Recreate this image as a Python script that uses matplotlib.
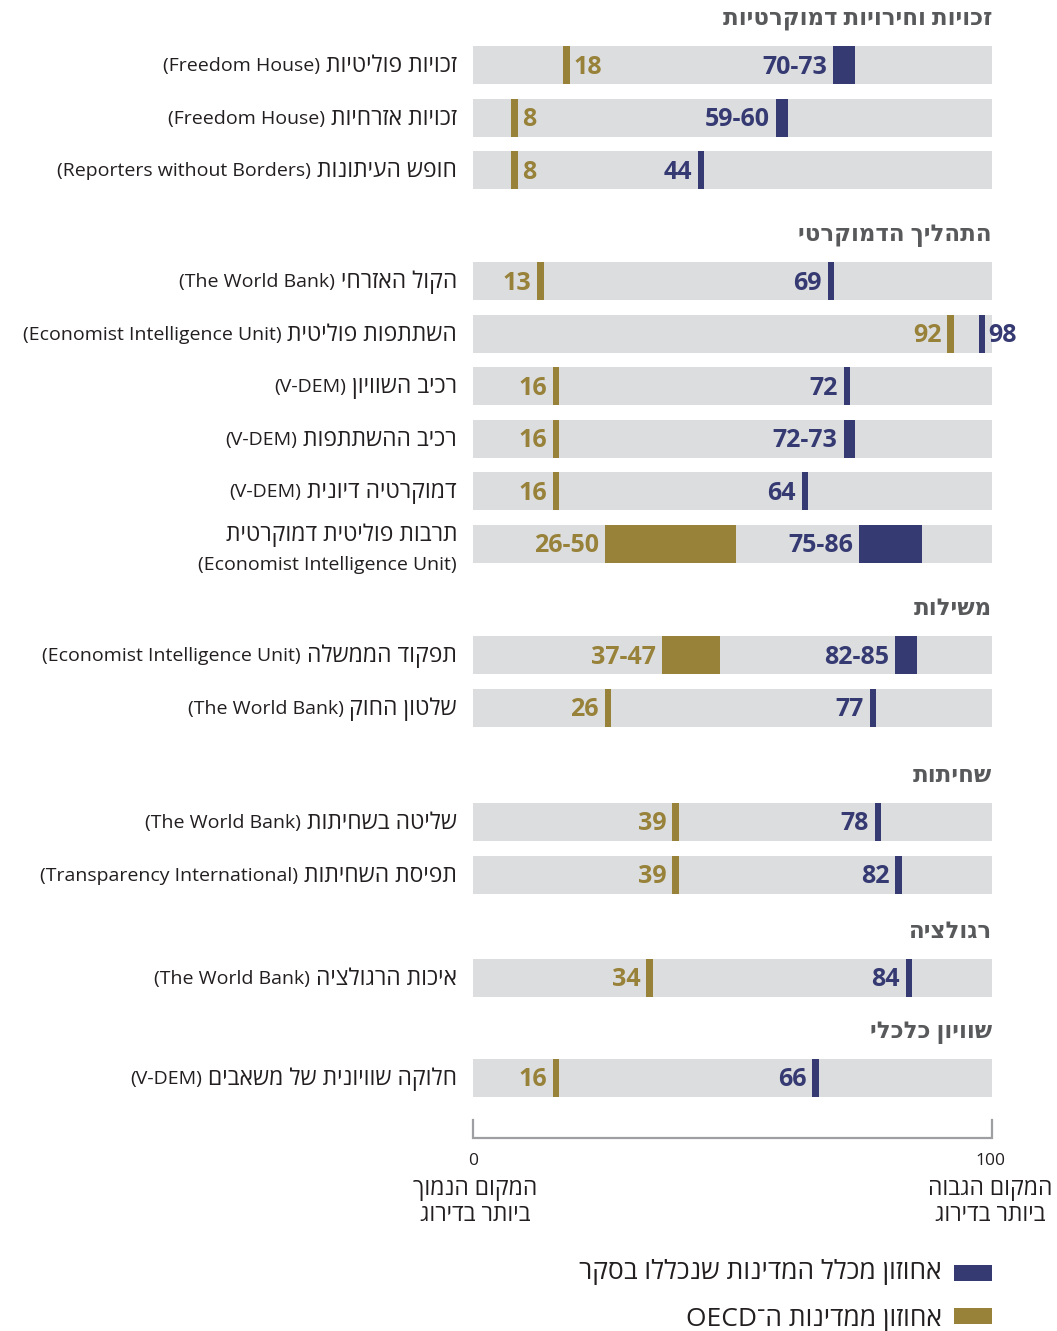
import matplotlib
matplotlib.use("Agg")
import matplotlib.pyplot as plt

plt.rcParams["font.family"] = ["Open Sans", "DejaVu Sans"]

GOLD = "#98823a"
NAVY = "#363a72"
GREY = "#dcdddf"
HEAD = "#58595b"
TXT = "#231f20"

# --- data ---
sections = ["זכויות וחירויות דמוקרטיות", "התהליך הדמוקרטי", "משילות",
            "שחיתות", "רגולציה", "שוויון כלכלי"]
section_sizes = [3, 6, 2, 2, 1, 1]

indicators = ["זכויות פוליטיות", "זכויות אזרחיות", "חופש העיתונות",
              "הקול האזרחי", "השתתפות פוליטית", "רכיב השוויון", "רכיב ההשתתפות",
              "דמוקרטיה דיונית", "תרבות פוליטית דמוקרטית",
              "תפקוד הממשלה", "שלטון החוק",
              "שליטה בשחיתות", "תפיסת השחיתות",
              "איכות הרגולציה",
              "חלוקה שוויונית של משאבים"]
sources = ["Freedom House", "Freedom House", "Reporters without Borders",
           "The World Bank", "Economist Intelligence Unit", "V-DEM", "V-DEM",
           "V-DEM", "Economist Intelligence Unit",
           "Economist Intelligence Unit", "The World Bank",
           "The World Bank", "Transparency International",
           "The World Bank",
           "V-DEM"]

oecd_lo = [18, 8, 8, 13, 92, 16, 16, 16, 26, 37, 26, 39, 39, 34, 16]
oecd_hi = [18, 8, 8, 13, 92, 16, 16, 16, 50, 47, 26, 39, 39, 34, 16]
all_lo = [70, 59, 44, 69, 98, 72, 72, 64, 75, 82, 77, 78, 82, 84, 66]
all_hi = [73, 60, 44, 69, 98, 72, 73, 64, 86, 85, 77, 78, 82, 84, 66]

legend_all = "אחוזון מכלל המדינות שנכללו בסקר"
legend_oecd = "אחוזון ממדינות ה־"
low_label = ["המקום הנמוך", "ביותר בדירוג"]
high_label = ["המקום הגבוה", "ביותר בדירוג"]

# --- layout (pixels, figure is 1057 x 1331 at dpi 100) ---
W, H = 1057, 1331
header_y = [19, 235, 609, 776, 932, 1032]
first_gap, row_step, bar_h = 46, 52.6, 38
pad = 0.6  # half width of a single-value marker, in percentile units
oecd_label_right = [True, True, True] + [False] * 12
all_label_right = [False] * 4 + [True] + [False] * 10
two_line = [8]
HEB_FS, ENG_FS = 16.5, 14


def rtl(s):
    # visual order for Hebrew-only text
    return s[::-1]


fig = plt.figure(figsize=(W / 100, H / 100), dpi=100)
ax = fig.add_axes([473 / W, 0, 519 / W, 1])
ax.set_xlim(0, 100)
ax.set_ylim(H, 0)
ax.axis("off")

row_y = []
for hy, n in zip(header_y, section_sizes):
    for i in range(n):
        row_y.append(hy + first_gap + i * row_step)

for hy, name in zip(header_y, sections):
    ax.text(100, hy, rtl(name), ha="right", va="center", fontsize=16.5,
            fontweight="bold", color=HEAD)

for i, y in enumerate(row_y):
    ax.barh(y, 100, height=bar_h, color=GREY, zorder=1)

    # labels at the left: Hebrew name, source in brackets to its left
    if i in two_line:
        ax.annotate(rtl(indicators[i]), xy=(0, y), xytext=(-16, 9),
                    textcoords="offset pixels", ha="right", va="center",
                    fontsize=HEB_FS, color=TXT, annotation_clip=False)
        ax.annotate("(" + sources[i] + ")", xy=(0, y), xytext=(-16, -21),
                    textcoords="offset pixels", ha="right", va="center",
                    fontsize=ENG_FS, color=TXT, annotation_clip=False)
    else:
        heb = ax.annotate(rtl(indicators[i]), xy=(0, y), xytext=(-16, -1),
                          textcoords="offset pixels", ha="right", va="center",
                          fontsize=HEB_FS, color=TXT, annotation_clip=False)
        ax.annotate("(" + sources[i] + ")", xy=(0, 0.5), xycoords=heb,
                    xytext=(-6, 0), textcoords="offset pixels", ha="right",
                    va="center", fontsize=ENG_FS, color=TXT)

    for lo, hi, col, right in ((oecd_lo[i], oecd_hi[i], GOLD, oecd_label_right[i]),
                               (all_lo[i], all_hi[i], NAVY, all_label_right[i])):
        left = lo - pad
        ax.barh(y, hi - lo + 2 * pad, left=left, height=bar_h, color=col, zorder=2)
        txt = str(lo) if lo == hi else f"{lo}-{hi}"
        if right:
            ax.annotate(txt, xy=(hi + pad, y), xytext=(4, -2),
                        textcoords="offset pixels", ha="left", va="center",
                        fontsize=18, fontweight="bold", color=col,
                        annotation_clip=False, zorder=3)
        else:
            ax.annotate(txt, xy=(left, y), xytext=(-6, -2),
                        textcoords="offset pixels", ha="right", va="center",
                        fontsize=18, fontweight="bold", color=col, zorder=3)

# scale bracket
ax.plot([0, 0, 100, 100], [1120, 1138, 1138, 1120], color="#9d9fa2", lw=1.6,
        solid_joinstyle="miter", clip_on=False)
ax.text(0, 1161, "0", ha="center", va="center", fontsize=12.5, color=TXT)
ax.text(99.6, 1161, "100", ha="center", va="center", fontsize=12.5, color=TXT)
for x, lines in ((0.4, low_label), (99.6, high_label)):
    ax.text(x, 1189, rtl(lines[0]), ha="center", va="center", fontsize=16.5, color=TXT)
    ax.text(x, 1215, rtl(lines[1]), ha="center", va="center", fontsize=16.5, color=TXT)

# legend
ax.barh(1273, 7.3, left=92.7, height=16, color=NAVY, clip_on=False)
ax.barh(1316, 7.3, left=92.7, height=16, color=GOLD, clip_on=False)
ax.text(90.3, 1272, rtl(legend_all), ha="right", va="center", fontsize=19, color=TXT)
ax.text(90.3, 1319, "OECD" + rtl(legend_oecd), ha="right", va="center",
        fontsize=19, color=TXT)

fig.savefig("out.png", dpi=100)
